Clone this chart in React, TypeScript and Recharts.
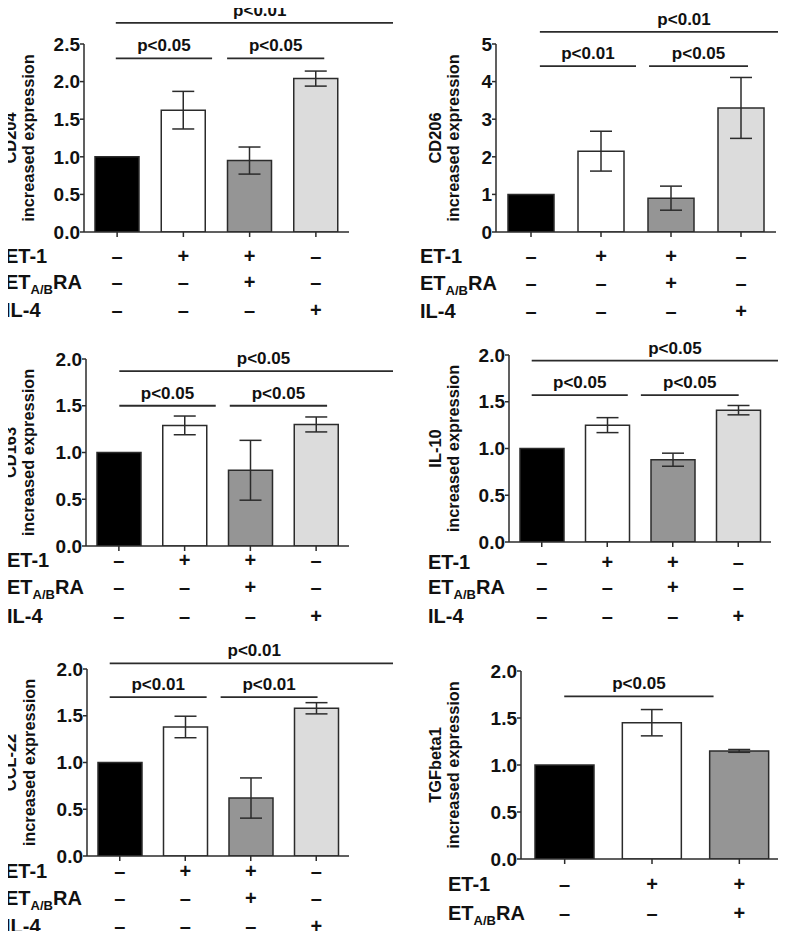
import React from 'react';
import { BarChart, Bar, XAxis, YAxis, ErrorBar, Cell, ReferenceLine } from 'recharts';

const FONT = '"Liberation Sans", Arial, sans-serif';
const INK = '#111';
const LINE = '#2b2b2b';

// groups, in drawing order
const groups4 = ['control', 'ET-1', 'ET-1 + ETA/BRA', 'IL-4'];
const groups3 = ['control', 'ET-1', 'ET-1 + ETA/BRA'];
const barColors = ['#000000', '#ffffff', '#959595', '#dcdcdc'];

// treatment table under the x axis
const rowNames4 = ['ET-1', 'ET_A/B_RA', 'IL-4'];
const rowNames3 = ['ET-1', 'ET_A/B_RA'];
const et1Signs = ['–', '+', '+', '–'];
const raSigns = ['–', '–', '+', '–'];
const il4Signs = ['–', '–', '–', '+'];

// means and error (SEM)
const cd204Mean = [1.0, 1.62, 0.95, 2.04];
const cd204Err = [0, 0.25, 0.18, 0.1];
const cd206Mean = [1.0, 2.15, 0.9, 3.3];
const cd206Err = [0, 0.53, 0.32, 0.81];
const cd163Mean = [1.0, 1.29, 0.81, 1.3];
const cd163Err = [0, 0.1, 0.32, 0.08];
const il10Mean = [1.0, 1.25, 0.88, 1.41];
const il10Err = [0, 0.08, 0.07, 0.05];
const ccl22Mean = [1.0, 1.38, 0.62, 1.58];
const ccl22Err = [0, 0.115, 0.215, 0.06];
const tgfMean = [1.0, 1.45, 1.15];
const tgfErr = [0, 0.14, 0.015];

// y ticks
const cd204Ticks = [0, 0.5, 1, 1.5, 2, 2.5];
const cd206Ticks = [0, 1, 2, 3, 4, 5];
const halfTicks = [0, 0.5, 1, 1.5, 2];

const build = (cats: string[], mean: number[], err: number[]) =>
  cats.map((c, i) => ({ name: c, mean: mean[i], err: err[i] }));

type Bracket = { from: number; to: number; y: number; text: string };

type Panel = {
  title: string;
  left: number;
  top: number;
  width: number;
  height: number;
  margin: { top: number; right: number; bottom: number; left: number };
  yWidth: number;
  xHeight: number;
  domain: [number, number];
  ticks: number[];
  decimals: number;
  data: { name: string; mean: number; err: number }[];
  rows: string[];
  signs: string[][];
  rowBaselines: number[]; // below the x axis
  rowLabelX: number;
  titleX: [number, number]; // baselines of the rotated title lines
  barSize: number;
  brackets: Bracket[];
};

const panels: Panel[] = [
  {
    title: 'CD204',
    left: 0, top: 0, width: 393, height: 330,
    margin: { top: 44, right: 44, bottom: 3, left: 0 },
    yWidth: 84, xHeight: 95,
    domain: [0, 2.5], ticks: cd204Ticks, decimals: 1,
    data: build(groups4, cd204Mean, cd204Err),
    rows: rowNames4, signs: [et1Signs, raSigns, il4Signs],
    rowBaselines: [31, 57, 85], rowLabelX: 5, titleX: [16, 34], barSize: 44,
    brackets: [
      { from: 0.36, to: 1.45, y: 2.31, text: 'p<0.05' },
      { from: 1.62, to: 2.72, y: 2.31, text: 'p<0.05' },
      { from: 0.36, to: 3.62, y: 2.78, text: 'p<0.01' },
    ],
  },
  {
    title: 'CD206',
    left: 393, top: 0, width: 393, height: 330,
    margin: { top: 44, right: 10, bottom: 3, left: 0 },
    yWidth: 103, xHeight: 95,
    domain: [0, 5], ticks: cd206Ticks, decimals: 0,
    data: build(groups4, cd206Mean, cd206Err),
    rows: rowNames4, signs: [et1Signs, raSigns, il4Signs],
    rowBaselines: [31, 58, 86], rowLabelX: 27, titleX: [48, 66], barSize: 46,
    brackets: [
      { from: 0.47, to: 1.5, y: 4.41, text: 'p<0.01' },
      { from: 1.64, to: 2.7, y: 4.41, text: 'p<0.05' },
      { from: 0.47, to: 3.56, y: 5.32, text: 'p<0.01' },
    ],
  },
  {
    title: 'CD163',
    left: 0, top: 315, width: 393, height: 315,
    margin: { top: 44, right: 44, bottom: 0, left: 0 },
    yWidth: 86, xHeight: 84,
    domain: [0, 2], ticks: halfTicks, decimals: 1,
    data: build(groups4, cd163Mean, cd163Err),
    rows: rowNames4, signs: [et1Signs, raSigns, il4Signs],
    rowBaselines: [21, 48, 77], rowLabelX: 7, titleX: [16, 34], barSize: 44,
    brackets: [
      { from: 0.38, to: 1.48, y: 1.5, text: 'p<0.05' },
      { from: 1.64, to: 2.75, y: 1.5, text: 'p<0.05' },
      { from: 0.38, to: 3.67, y: 1.87, text: 'p<0.05' },
    ],
  },
  {
    title: 'IL-10',
    left: 393, top: 315, width: 393, height: 315,
    margin: { top: 40, right: 15, bottom: 4, left: 0 },
    yWidth: 116, xHeight: 84,
    domain: [0, 2], ticks: halfTicks, decimals: 1,
    data: build(groups4, il10Mean, il10Err),
    rows: rowNames4, signs: [et1Signs, raSigns, il4Signs],
    rowBaselines: [27, 52, 81], rowLabelX: 35, titleX: [48, 66], barSize: 44,
    brackets: [
      { from: 0.26, to: 1.36, y: 1.57, text: 'p<0.05' },
      { from: 1.51, to: 2.63, y: 1.57, text: 'p<0.05' },
      { from: 0.26, to: 3.54, y: 1.94, text: 'p<0.05' },
    ],
  },
  {
    title: 'CCL-22',
    left: 0, top: 630, width: 393, height: 309,
    margin: { top: 39, right: 44, bottom: 0, left: 0 },
    yWidth: 87, xHeight: 83,
    domain: [0, 2], ticks: halfTicks, decimals: 1,
    data: build(groups4, ccl22Mean, ccl22Err),
    rows: rowNames4, signs: [et1Signs, raSigns, il4Signs],
    rowBaselines: [22, 49, 77], rowLabelX: 5, titleX: [16, 35], barSize: 44,
    brackets: [
      { from: 0.26, to: 1.37, y: 1.7, text: 'p<0.01' },
      { from: 1.53, to: 2.64, y: 1.7, text: 'p<0.01' },
      { from: 0.26, to: 3.57, y: 2.06, text: 'p<0.01' },
    ],
  },
  {
    title: 'TGFbeta1',
    left: 393, top: 630, width: 393, height: 309,
    margin: { top: 41, right: 3, bottom: 0, left: 0 },
    yWidth: 128, xHeight: 80,
    domain: [0, 2], ticks: halfTicks, decimals: 1,
    data: build(groups3, tgfMean, tgfErr),
    rows: rowNames3, signs: [et1Signs, raSigns],
    rowBaselines: [32, 61], rowLabelX: 55, titleX: [48, 66], barSize: 59,
    brackets: [{ from: 0.33, to: 1.47, y: 1.73, text: 'p<0.05' }],
  },
];

const TICK = 5;

function RowLabel({ x, y, name }: { x: number; y: number; name: string }) {
  const parts = name.split('_');
  return (
    <text x={x} y={y} fontFamily={FONT} fontWeight={700} fontSize={20} fill={INK}>
      {parts.length === 3 ? (
        <>
          <tspan>{parts[0]}</tspan>
          <tspan fontSize={13} dy={5}>{parts[1]}</tspan>
          <tspan fontSize={20} dy={-5}>{parts[2]}</tspan>
        </>
      ) : (
        name
      )}
    </text>
  );
}

function TableTick(props: any) {
  const { x, y, index, panel } = props;
  const p = panel as Panel;
  const axisY = y - TICK;
  return (
    <g>
      {p.signs.map((s, r) => (
        <text
          key={r}
          x={x}
          y={axisY + p.rowBaselines[r]}
          textAnchor="middle"
          fontFamily={FONT}
          fontWeight={700}
          fontSize={20}
          fill={INK}
        >
          {s[index]}
        </text>
      ))}
      {index === 0 &&
        p.rows.map((name, r) => (
          <RowLabel key={name} x={p.rowLabelX} y={axisY + p.rowBaselines[r]} name={name} />
        ))}
    </g>
  );
}

function YTitle({ panel }: { panel: Panel }) {
  const plotH = panel.height - panel.margin.top - panel.margin.bottom - panel.xHeight;
  const cy = panel.margin.top + plotH / 2;
  const lines = [panel.title, 'increased expression'];
  return (
    <g>
      {lines.map((t, i) => (
        <text
          key={t}
          transform={`translate(${panel.titleX[i]}, ${cy}) rotate(-90)`}
          textAnchor="middle"
          fontFamily={FONT}
          fontWeight={700}
          fontSize={16.4}
          fill={INK}
        >
          {t}
        </text>
      ))}
    </g>
  );
}

function PanelChart({ panel }: { panel: Panel }) {
  const n = panel.data.length;
  return (
    <div style={{ position: 'absolute', left: panel.left, top: panel.top }}>
      <BarChart width={panel.width} height={panel.height} data={panel.data} margin={panel.margin}>
        <XAxis
          dataKey="name"
          height={panel.xHeight}
          axisLine={{ stroke: LINE, strokeWidth: 1.5 }}
          tickLine={{ stroke: LINE, strokeWidth: 1.5 }}
          tickSize={TICK}
          tickMargin={0}
          interval={0}
          tick={(tp: any) => <TableTick {...tp} panel={panel} />}
        />
        <XAxis xAxisId="num" type="number" domain={[0, n]} allowDataOverflow hide />
        <YAxis
          width={panel.yWidth}
          domain={panel.domain}
          ticks={panel.ticks}
          interval={0}
          allowDataOverflow
          axisLine={{ stroke: LINE, strokeWidth: 1.5 }}
          tickLine={{ stroke: LINE, strokeWidth: 1.5 }}
          tickSize={4}
          tickMargin={0}
          tickFormatter={(v: number) => v.toFixed(panel.decimals)}
          tick={{ fontFamily: FONT, fontWeight: 700, fontSize: 19, fill: INK }}
          label={{ content: () => <YTitle panel={panel} /> }}
        />
        <Bar dataKey="mean" barSize={panel.barSize} stroke={LINE} strokeWidth={1.5} isAnimationActive={false}>
          {panel.data.map((d, i) => (
            <Cell key={d.name} fill={barColors[i]} />
          ))}
          <ErrorBar dataKey="err" width={11} stroke={LINE} strokeWidth={1.5} direction="y" />
        </Bar>
        {panel.brackets.map((b, i) => (
          <ReferenceLine
            key={i}
            xAxisId="num"
            segment={[
              { x: b.from, y: b.y },
              { x: b.to, y: b.y },
            ]}
            ifOverflow="visible"
            stroke={LINE}
            strokeWidth={1.8}
            label={{
              value: b.text,
              position: 'top',
              offset: 7,
              fill: INK,
              fontSize: 17,
              fontWeight: 700,
              fontFamily: FONT,
            }}
          />
        ))}
      </BarChart>
    </div>
  );
}

export default function App() {
  return (
    <div
      style={{
        position: 'relative',
        width: 786,
        height: 939,
        margin: -8,
        overflow: 'hidden',
        background: '#fff',
      }}
    >
      {panels.map((p) => (
        <PanelChart key={p.title} panel={p} />
      ))}
    </div>
  );
}
